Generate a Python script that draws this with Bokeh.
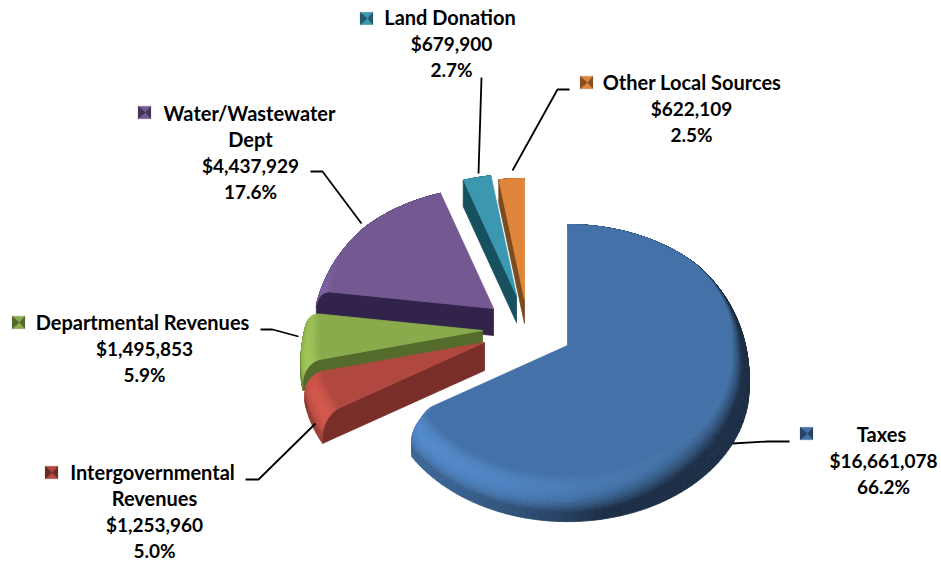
import math
from bokeh.embed import file_html
from bokeh.models import ColumnDataSource, Range1d
from bokeh.plotting import figure
from bokeh.resources import INLINE
from bokeh.core.properties import value

# Revenue by source
categories = ["Taxes", "Intergovernmental Revenues", "Departmental Revenues",
              "Water/Wastewater Dept", "Land Donation", "Other Local Sources"]
amounts = [16661078, 1253960, 1495853, 4437929, 679900, 622109]
name_lines = [["Taxes"], ["Intergovernmental", "Revenues"], ["Departmental Revenues"],
              ["Water/Wastewater", "Dept"], ["Land Donation"], ["Other Local Sources"]]

# Styling per slice
face_colors = ["#4472a8", "#b0483f", "#8aab4c", "#735892", "#3c97b0", "#e0853a"]
cut_colors = ["#1f3a5f", "#7a2e2a", "#556b2c", "#32234a", "#17505f", "#7a4a20"]
apex_x = [567, 484, 482, 493, 516, 524]
apex_y = [345, 342, 330, 308, 295, 299]
depths = [30, 28, 28, 27, 27, 24]
paint_order = [3, 4, 5, 2, 1, 0]

# Label layout: centre of the name's first line, centre of the other lines, first row
label_first_x = [881, 152, 142, 249, 449.5, 691.5]
label_rest_x = [883, 154, 144, 250, 451, 691]
label_y = [433.5, 471.5, 321.5, 112.5, 16.5, 81.5]
key_x = [806, 51, 18, 144, 366, 586]
key_y = [433, 472, 322, 112, 18, 82]
LINE_GAP = 26

leader_xs = [[732, 767, 789], [315, 258, 245], [260, 272, 298],
             [310, 322, 361], [481, 478], [569, 557, 512]]
leader_ys = [[443, 441, 441], [423, 479, 479], [329, 329, 336],
             [171, 171, 223], [77, 173], [89, 89, 170]]

# Projection of the tilted disc
RX, RY, PERSPECTIVE = 181.0, 133.0, 0.09
BEVEL_WIDTH, BEVEL_DROP = 0.10, 20.0
LIGHT_X, LIGHT_Y = -0.7, 0.55
ARC_LEVELS, WALL_LEVELS = 16, 3


def project(cx, cy, theta, rho, z):
    f = 1.0 / (1.0 + PERSPECTIVE * rho * math.cos(theta))
    return cx + RX * rho * math.sin(theta) * f, cy - RY * rho * math.cos(theta) * f + z


def bevel_scale(theta):
    return min(1.0, max(0.12, (0.75 - math.cos(theta)) / 0.75))


def corner_scale(theta, end_angle):
    """Pull the radius in just before end_angle, which rounds that corner."""
    if end_angle is None:
        return 1.0
    d = (end_angle - theta) / math.radians(4.0)
    return 1.0 if d >= 1 else 1.0 - 0.07 * (1 - d) ** 2


def rim_profile(theta, depth, end_angle=None):
    """Radius, drop and surface tilt going from the flat top down the rounded edge."""
    g = bevel_scale(theta)
    inner = 1.0 - BEVEL_WIDTH * g
    drop = BEVEL_DROP * g
    c = corner_scale(theta, end_angle)
    pts = []
    for i in range(ARC_LEVELS + 1):
        phi = math.pi / 2 * i / ARC_LEVELS
        pts.append(((inner + (1 - inner) * math.sin(phi)) * c, drop * (1 - math.cos(phi)), phi))
    for i in range(1, WALL_LEVELS + 1):
        pts.append((c, drop + (depth - drop) * i / WALL_LEVELS, math.pi / 2))
    return pts


def shade(color, theta, phi):
    sp, cp = math.sin(phi), math.cos(phi)
    level = cp + sp * (LIGHT_X * math.sin(theta) - LIGHT_Y * math.cos(theta))
    level = max(0.42, level)
    if level > 1:
        level = 1 + (level - 1) * 0.6
    rgb = [int(color[i:i + 2], 16) for i in (1, 3, 5)]
    return "#%02x%02x%02x" % tuple(min(255, int(c * level)) for c in rgb)


p = figure(width=941, height=563, output_backend="svg", toolbar_location=None,
           x_range=Range1d(0, 941), y_range=Range1d(563, 0), min_border=0,
           outline_line_color=None, background_fill_color="white")
p.axis.visible = False
p.grid.visible = False

total = sum(amounts)
starts, acc = [], 0
for v in amounts:
    starts.append(2 * math.pi * acc / total)
    acc += v
ends = starts[1:] + [2 * math.pi]

for i in paint_order:
    cx, cy, depth, color = apex_x[i], apex_y[i], depths[i], face_colors[i]
    t0, t1 = starts[i], ends[i]
    round_end = t1 if i == 0 else None
    n_seg = max(6, int((t1 - t0) / math.radians(2.0)))
    thetas = [t0 + (t1 - t0) * k / n_seg for k in range(n_seg + 1)]

    # The cut wall that faces the viewer; the big slice turns its walls away
    if i != 0:
        xs, ys = [cx], [cy]
        for rho, z, _ in rim_profile(t0, depth):
            x, y = project(cx, cy, t0, rho, z)
            xs.append(x)
            ys.append(y)
        xs.append(cx)
        ys.append(cy + depth)
        p.patch(xs, ys, fill_color=cut_colors[i], line_color=cut_colors[i], line_width=0.8)

    # Outer wall and rounded edge, strips painted from the lowest upwards
    qx, qy, qc = [], [], []
    profiles = [rim_profile(th, depth, round_end) for th in thetas]
    for level in range(ARC_LEVELS + WALL_LEVELS, 0, -1):
        for k in range(n_seg):
            a, b = thetas[k], thetas[k + 1]
            mid = (a + b) / 2
            if level > ARC_LEVELS and math.cos(mid) > 0.1:
                continue
            pa, pb = profiles[k], profiles[k + 1]
            corners = [project(cx, cy, a, pa[level][0], pa[level][1]),
                       project(cx, cy, b, pb[level][0], pb[level][1]),
                       project(cx, cy, b, pb[level - 1][0], pb[level - 1][1]),
                       project(cx, cy, a, pa[level - 1][0], pa[level - 1][1])]
            qx.append([c[0] for c in corners])
            qy.append([c[1] for c in corners])
            qc.append(shade(color, mid, (pa[level][2] + pa[level - 1][2]) / 2))
    p.patches("x", "y", source=ColumnDataSource(dict(x=qx, y=qy, c=qc)),
              fill_color="c", line_color="c", line_width=0.8)

    # Flat top of the slice
    xs, ys = [cx], [cy]
    for th, prof in zip(thetas, profiles):
        x, y = project(cx, cy, th, prof[0][0], 0)
        xs.append(x)
        ys.append(y)
    p.patch(xs, ys, fill_color=color, line_color=color, line_width=0.8)

# Leader lines
p.multi_line(leader_xs, leader_ys, line_color="black", line_width=1.8)


def darker(color, f):
    rgb = [int(color[i:i + 2], 16) for i in (1, 3, 5)]
    return "#%02x%02x%02x" % tuple(int(c * f) for c in rgb)


# Legend keys: a lit square with two shaded wedges pointing to its centre
KEY_HALF = 6.5
for i in range(len(amounts)):
    kx, ky = key_x[i], key_y[i]
    h = KEY_HALF
    p.patch([kx - h, kx + h, kx + h, kx - h], [ky - h, ky - h, ky + h, ky + h],
            fill_color=face_colors[i], line_color="#cfcfcf", line_width=0.6)
    p.patches([[kx - h, kx + 1, kx - h], [kx + h, kx + 1, kx + h]],
              [[ky - h, ky, ky + h], [ky - h, ky, ky + h]],
              fill_color=darker(face_colors[i], 0.6), line_color=None)

# Data labels: names first, then the figures in a slightly smaller size
name_x, name_y, name_t, fig_x, fig_y, fig_t = [], [], [], [], [], []
for i, v in enumerate(amounts):
    rows = name_lines[i]
    for row, line in enumerate(rows):
        name_x.append(label_first_x[i] if row == 0 else label_rest_x[i])
        name_y.append(label_y[i] + row * LINE_GAP)
        name_t.append(line)
    for row, line in enumerate([f"${v:,}", f"{100 * v / total:.1f}%"], start=len(rows)):
        fig_x.append(label_rest_x[i])
        fig_y.append(label_y[i] + row * LINE_GAP)
        fig_t.append(line)
p.text(name_x, name_y, text=name_t, text_font=value("Lato"), text_font_style="bold",
       text_font_size="20px", text_align="center", text_baseline="middle", text_color="black")
p.text(fig_x, fig_y, text=fig_t, text_font=value("Lato"), text_font_style="bold",
       text_font_size="19px", text_align="center", text_baseline="middle", text_color="black")

open("out.html", "w").write(file_html(p, INLINE))
